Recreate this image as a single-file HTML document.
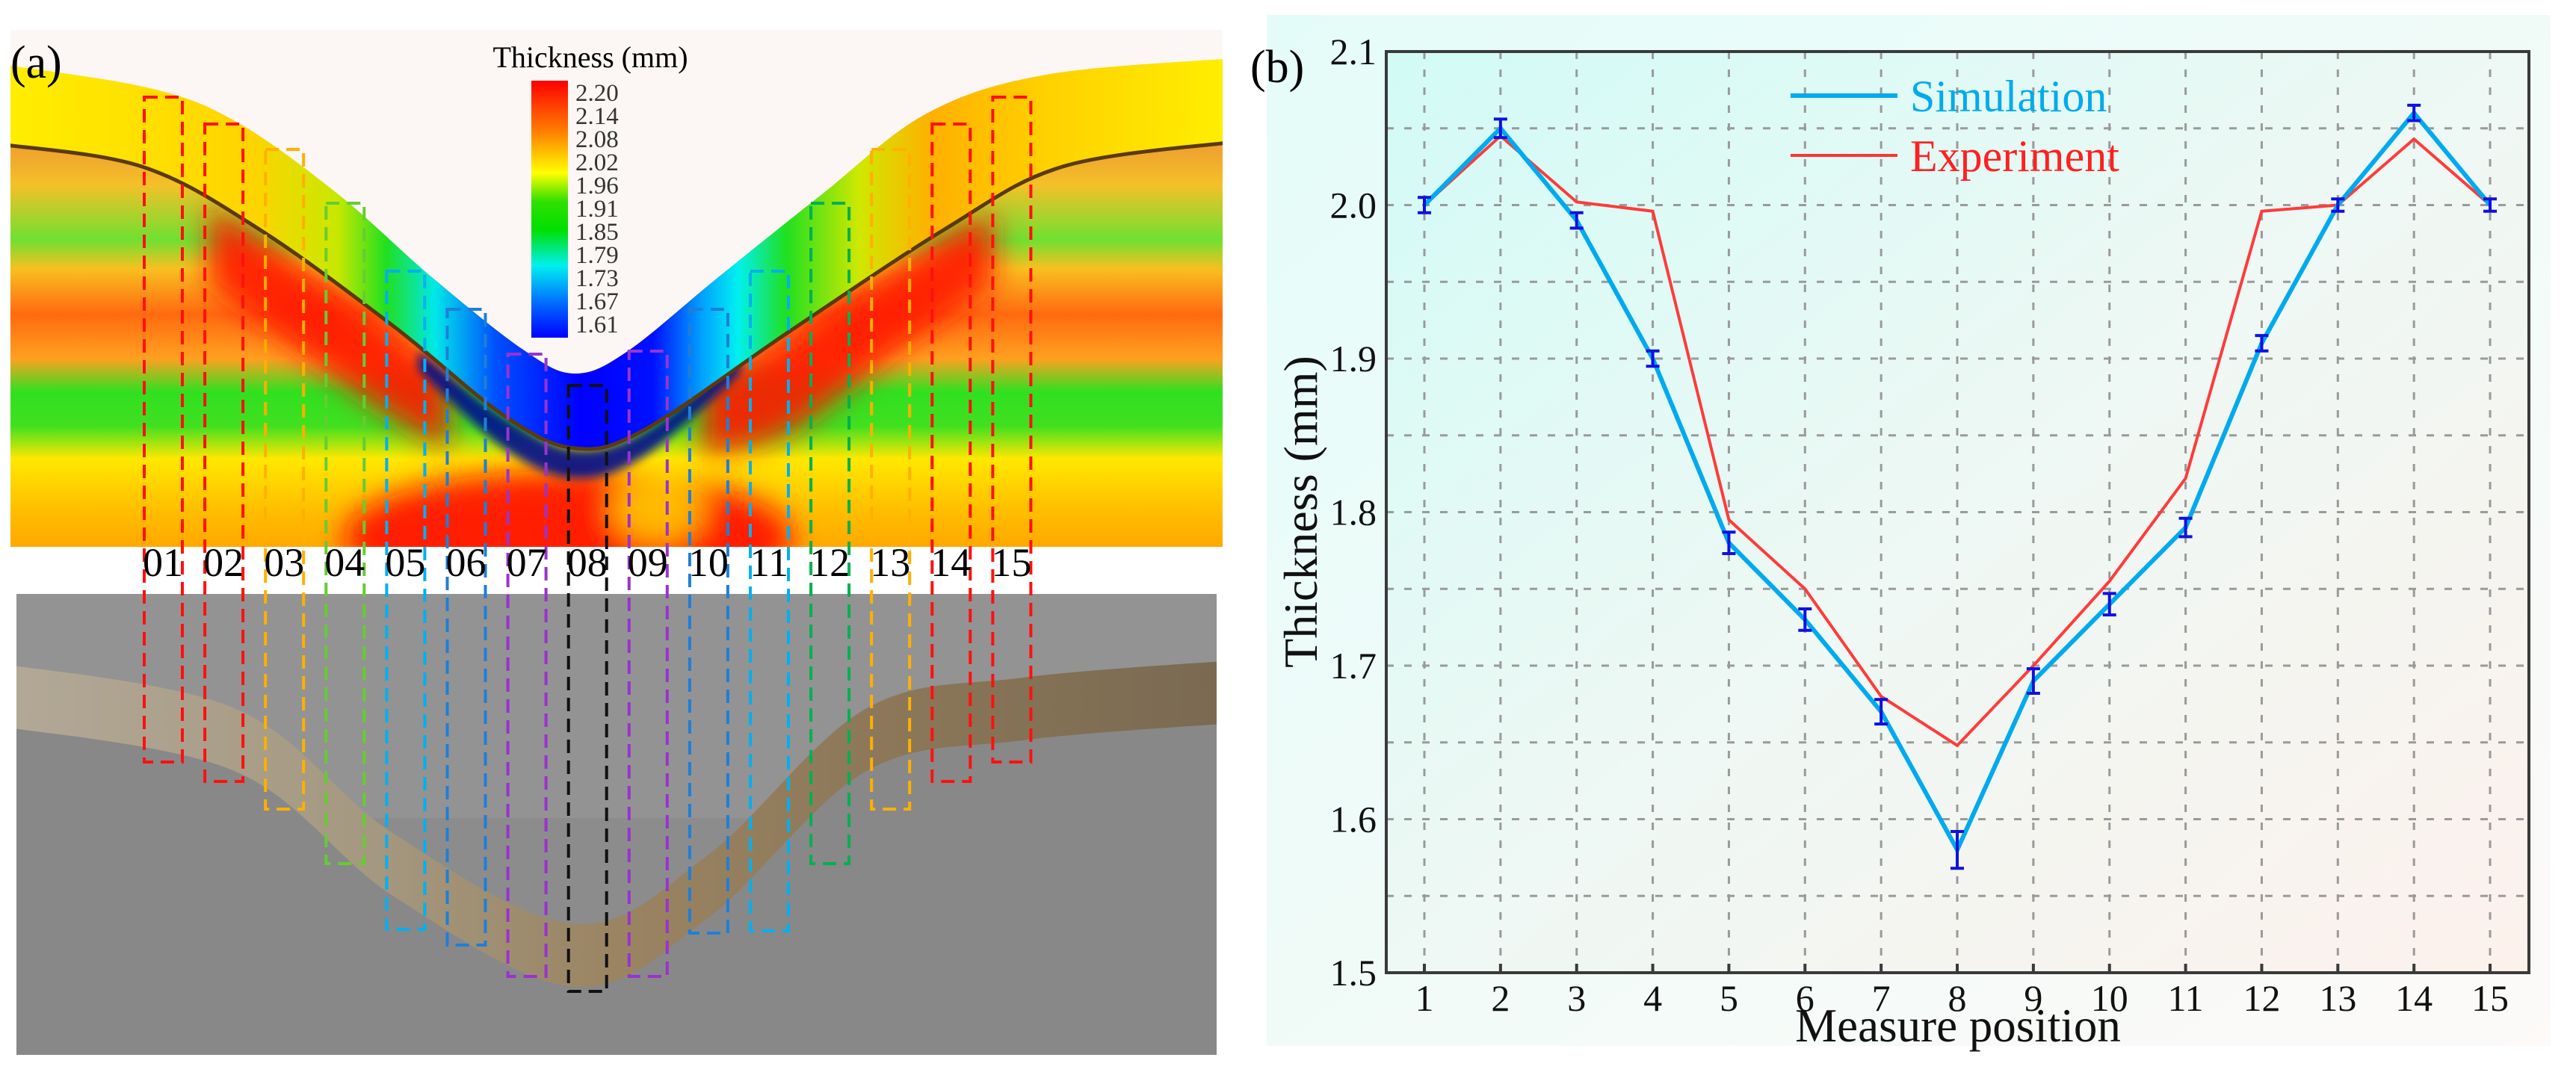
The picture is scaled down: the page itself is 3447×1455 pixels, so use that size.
<!DOCTYPE html>
<html><head><meta charset="utf-8"><style>
html,body{margin:0;padding:0;background:#fff;}
svg{display:block;}
text{font-family:"Liberation Serif",serif;}
</style></head><body>
<svg id="root" width="3447" height="1455" viewBox="0 0 3447 1455" xmlns="http://www.w3.org/2000/svg" font-family="Liberation Serif, serif">
<defs>
  <filter id="blur" x="-20%" y="-20%" width="140%" height="140%"><feGaussianBlur stdDeviation="18"/></filter>
  <filter id="blur2" x="-20%" y="-20%" width="140%" height="140%"><feGaussianBlur stdDeviation="6"/></filter>
  <linearGradient id="stripes" x1="0" y1="40" x2="0" y2="732" gradientUnits="userSpaceOnUse">
    <stop offset="0" stop-color="#ffd000"/><stop offset="0.224" stop-color="#eea030"/>
    <stop offset="0.30" stop-color="#f4c028"/><stop offset="0.406" stop-color="#70e030"/>
    <stop offset="0.462" stop-color="#f8c020"/><stop offset="0.55" stop-color="#ff6a10"/>
    <stop offset="0.636" stop-color="#ffa020"/><stop offset="0.70" stop-color="#30e020"/>
    <stop offset="0.766" stop-color="#40e020"/><stop offset="0.83" stop-color="#ffe800"/>
    <stop offset="0.925" stop-color="#ffc000"/><stop offset="1" stop-color="#ffa800"/>
  </linearGradient>
  <linearGradient id="sheet" x1="14" y1="0" x2="1636" y2="0" gradientUnits="userSpaceOnUse">
    <stop offset="0" stop-color="#ffee00"/><stop offset="0.2" stop-color="#ffd400"/>
    <stop offset="0.27" stop-color="#c8e800"/><stop offset="0.31" stop-color="#20e020"/>
    <stop offset="0.35" stop-color="#00e8e8"/><stop offset="0.40" stop-color="#0050ff"/>
    <stop offset="0.47" stop-color="#0000ff"/><stop offset="0.53" stop-color="#0010ff"/>
    <stop offset="0.57" stop-color="#00a0ff"/><stop offset="0.60" stop-color="#00f0f0"/>
    <stop offset="0.64" stop-color="#20e020"/><stop offset="0.70" stop-color="#d0e800"/>
    <stop offset="0.76" stop-color="#ffb000"/><stop offset="0.85" stop-color="#ffd000"/>
    <stop offset="1" stop-color="#ffee00"/>
  </linearGradient>
  <linearGradient id="cbar" x1="0" y1="0" x2="0" y2="1">
    <stop offset="0" stop-color="#ff0000"/><stop offset="0.2" stop-color="#ff8000"/>
    <stop offset="0.36" stop-color="#ffff00"/><stop offset="0.47" stop-color="#30e000"/>
    <stop offset="0.58" stop-color="#00e000"/><stop offset="0.72" stop-color="#00f0f0"/>
    <stop offset="0.86" stop-color="#0070ff"/><stop offset="1" stop-color="#0000ff"/>
  </linearGradient>
  <linearGradient id="band" x1="22" y1="0" x2="1628" y2="0" gradientUnits="userSpaceOnUse">
    <stop offset="0" stop-color="#b2a896"/><stop offset="0.3" stop-color="#a49880"/>
    <stop offset="0.5" stop-color="#9a8462"/><stop offset="0.75" stop-color="#8a7658"/>
    <stop offset="1" stop-color="#7a6a52"/>
  </linearGradient>
  <linearGradient id="bgb" x1="0" y1="0" x2="1" y2="1">
    <stop offset="0" stop-color="#d2fbf6"/><stop offset="0.5" stop-color="#eef8f4"/>
    <stop offset="1" stop-color="#fdf1ec"/>
  </linearGradient>
  <linearGradient id="bgbo" x1="0" y1="0" x2="1" y2="1">
    <stop offset="0" stop-color="#e4fcf9"/><stop offset="1" stop-color="#fdfaf8"/>
  </linearGradient>
  <clipPath id="femclip"><rect x="14" y="40" width="1622" height="692"/></clipPath>
  <clipPath id="photoclip"><rect x="22" y="795" width="1606" height="617"/></clipPath>
</defs>

<g id="panel-a">
  <g id="fem" clip-path="url(#femclip)">
    <rect x="14" y="40" width="1622" height="692" fill="#fcf7f5"/>
    <path id="below" fill="url(#stripes)"/>
    <g filter="url(#blur)">
      <path id="redv" fill="#ff1800" opacity="0.9"/>
      <ellipse cx="760" cy="720" rx="300" ry="90" fill="#ff1000" opacity="0.9"/>
      <ellipse cx="880" cy="680" rx="60" ry="45" fill="#ffe000" opacity="0.8"/>
    </g>
    <path id="darkv" fill="#000a90" opacity="0.9" filter="url(#blur2)"/>
    <path id="sheetp" fill="url(#sheet)"/>
    <path id="edge" fill="none" stroke="#5a3a10" stroke-width="5"/>
  </g>
  <text x="14" y="104" font-size="62" fill="#000" font-family="Liberation Serif, serif">(a)</text>
  <text x="790" y="90" font-size="40" text-anchor="middle" fill="#000" font-family="Liberation Serif, serif">Thickness (mm)</text>
  <rect x="711" y="108" width="49" height="344" fill="url(#cbar)"/>
  <g id="cbticks"></g>

  <g clip-path="url(#photoclip)">
    <rect x="22" y="795" width="1606" height="617" fill="#8c8c8c"/>
    <rect x="22" y="795" width="1606" height="300" fill="#939393"/>
    <path id="bandp" fill="url(#band)"/>
    <path id="belowband" fill="#888888"/>
  </g>
  <g id="boxes"></g>
</g>

<g id="panel-b">
  <rect x="1695" y="20" width="1718" height="1380" fill="url(#bgbo)"/>
  <rect x="1855" y="69" width="1529" height="1233" fill="url(#bgb)"/>
  <g id="grid"></g>
  <g id="series"></g>
  <rect x="1855" y="69" width="1529" height="1233" fill="none" stroke="#3a3a3a" stroke-width="4"/>
  <g id="axes"></g>
  <text x="1673" y="110" font-size="62" fill="#000" font-family="Liberation Serif, serif">(b)</text>
  <text transform="translate(1762,685) rotate(-90)" font-size="64" text-anchor="middle" fill="#111" font-family="Liberation Serif, serif">Thickness (mm)</text>
  <text x="2620" y="1394" font-size="63" text-anchor="middle" fill="#111" font-family="Liberation Serif, serif">Measure position</text>
  <g>
    <line x1="2396" y1="128" x2="2539" y2="128" stroke="#00aaee" stroke-width="6"/>
    <text x="2556" y="149" font-size="60" fill="#00aaee" font-family="Liberation Serif, serif">Simulation</text>
    <line x1="2396" y1="208" x2="2539" y2="208" stroke="#ff3333" stroke-width="4"/>
    <text x="2556" y="229" font-size="60" fill="#ff2020" font-family="Liberation Serif, serif">Experiment</text>
  </g>
</g>
</svg>
<script>
// ---- chart data ----
const positions = [1,2,3,4,5,6,7,8,9,10,11,12,13,14,15];
const simulation = [2.00,2.05,1.99,1.90,1.78,1.73,1.67,1.58,1.69,1.74,1.79,1.91,2.00,2.06,2.00];
const simError = [0.005,0.006,0.005,0.005,0.007,0.007,0.008,0.012,0.008,0.007,0.006,0.005,0.004,0.005,0.004];
const experiment = [2.00,2.045,2.002,1.996,1.795,1.75,1.68,1.648,1.70,1.755,1.822,1.996,2.00,2.043,2.00];
const yTicks = [1.5,1.6,1.7,1.8,1.9,2.0,2.1];
const yTickLabels = ["1.5","1.6","1.7","1.8","1.9","2.0","2.1"];
const colorbarLabels = ["2.20","2.14","2.08","2.02","1.96","1.91","1.85","1.79","1.73","1.67","1.61"];
const boxLabels = ["01","02","03","04","05","06","07","08","09","10","11","12","13","14","15"];

const NS = "http://www.w3.org/2000/svg";
const SERIF = "Liberation Serif, serif";
function mk(tag, attrs, parent){const e=document.createElementNS(NS,tag);for(const k in attrs)e.setAttribute(k,attrs[k]);parent.appendChild(e);return e;}
const X = v => 1906 + (v-1)*101.86;
const Y = v => 1302 - (v-1.5)*2055;

// grid
const grid=document.getElementById('grid');
for(const p of positions){
  const l=mk('line',{x1:X(p),x2:X(p),y1:69,y2:1302,stroke:'#9a9a9a','stroke-width':3,'stroke-dasharray':'10 14'},grid);
  
  
}
for(let v=1.55; v<2.09; v+=0.05){
  const l=mk('line',{x1:1855,x2:3384,y1:Y(v),y2:Y(v),stroke:'#9a9a9a','stroke-width':3,'stroke-dasharray':'10 14'},grid);
  
  
}
// axes labels
const axes=document.getElementById('axes');
yTicks.forEach((t,i)=>{
  const tx=mk('text',{x:1842,y:Y(t)+17,'font-size':50,'text-anchor':'end',fill:'#111','font-family':SERIF},axes);
  tx.textContent=yTickLabels[i];
  
  
});
positions.forEach(p=>{
  const tk=mk('line',{x1:X(p),x2:X(p),y1:1302,y2:1290,stroke:'#3a3a3a','stroke-width':4},axes);
  
  
  const tx=mk('text',{x:X(p),y:1353,'font-size':50,'text-anchor':'middle',fill:'#111','font-family':SERIF},axes);
  tx.textContent=String(p);
  
  
});
// series
const ser=document.getElementById('series');
const expLine=mk('polyline',{points:positions.map((p,i)=>X(p)+','+Y(experiment[i])).join(' '),fill:'none',stroke:'#ff3b3b','stroke-width':4},ser);


const simLine=mk('polyline',{points:positions.map((p,i)=>X(p)+','+Y(simulation[i])).join(' '),fill:'none',stroke:'#00aaee','stroke-width':6},ser);


positions.forEach((p,i)=>{
  const g=mk('g',{stroke:'#1010e0','stroke-width':4},ser);
  
  
  const y1=Y(simulation[i]+simError[i]), y2=Y(simulation[i]-simError[i]), x=X(p);
  mk('line',{x1:x,x2:x,y1:y1,y2:y2},g);
  mk('line',{x1:x-9,x2:x+9,y1:y1,y2:y1},g);
  mk('line',{x1:x-9,x2:x+9,y1:y2,y2:y2},g);
});

// ---- panel (a) drawings ----
function smooth(pts){
  let d='M'+pts[0][0]+','+pts[0][1];
  for(let i=0;i<pts.length-1;i++){
    const p0=pts[Math.max(0,i-1)],p1=pts[i],p2=pts[i+1],p3=pts[Math.min(pts.length-1,i+2)];
    const c1=[p1[0]+(p2[0]-p0[0])/6,p1[1]+(p2[1]-p0[1])/6];
    const c2=[p2[0]-(p3[0]-p1[0])/6,p2[1]-(p3[1]-p1[1])/6];
    d+=' C'+c1[0]+','+c1[1]+' '+c2[0]+','+c2[1]+' '+p2[0]+','+p2[1];
  }
  return d;
}
const rev=a=>a.slice().reverse();
const topC=[[0,86],[200,118],[316,163],[450,258],[579,372],[700,468],[769,500],[840,470],[960,372],[1100,260],[1240,152],[1400,100],[1650,78]];
const botC=[[0,193],[190,223],[347,307],[527,437],[674,556],[769,600],[863,575],[1053,446],[1264,307],[1422,223],[1650,190]];
document.getElementById('below').setAttribute('d',smooth(topC)+' L1650,740 L0,740 Z');
document.getElementById('sheetp').setAttribute('d',smooth(topC)+' L1650,190 '+smooth(rev(botC)).replace('M','L')+' Z');
document.getElementById('edge').setAttribute('d',smooth(botC));
const darkTop=[[560,470],[674,558],[769,602],[863,577],[990,480]];
const darkBot=[[990,500],[863,610],[769,640],[674,600],[560,495]];
document.getElementById('darkv').setAttribute('d',smooth(darkTop)+' '+smooth(darkBot).replace('M','L')+' Z');
const redTop=[[280,280],[347,315],[527,445],[600,500]];
const redBot=[[600,600],[527,560],[400,470],[280,380]];
const redTop2=[[940,510],[1053,452],[1264,315],[1330,290]];
const redBot2=[[1330,380],[1200,470],[1053,580],[940,610]];
document.getElementById('redv').setAttribute('d',
  smooth(redTop)+' '+smooth(redBot).replace('M','L')+' Z '+
  smooth(redTop2)+' '+smooth(redBot2).replace('M','L')+' Z');

const cb=document.getElementById('cbticks');
colorbarLabels.forEach((s,i)=>{
  const t=mk('text',{x:770,y:135+i*31,'font-size':33,fill:'#333','font-family':'Liberation Sans, sans-serif'},cb);
  t.textContent=s;
  
  
});

const bandTop=[[0,888],[316,949],[527,1116],[769,1237],[948,1144],[1158,949],[1369,907],[1650,884]];
const bandBot=[[1650,968],[1369,991],[1158,1033],[948,1228],[769,1321],[527,1200],[316,1033],[0,972]];
document.getElementById('bandp').setAttribute('d',smooth(bandTop)+' '+smooth(bandBot).replace('M','L')+' Z');
document.getElementById('belowband').setAttribute('d',smooth(rev(bandBot))+' L1650,1420 L0,1420 Z');

const boxTops=[130,166,200,272,363,414,474,516,470,414,363,272,200,166,130];
const boxBots=[1020,1046,1083,1156,1244,1265,1307,1327,1307,1249,1246,1156,1083,1046,1020];
const boxColors=['#ff1010','#ff1010','#ffb000','#66cc33','#00b0f0','#1e7fd8','#9933cc','#111111','#9933cc','#1e7fd8','#00b0f0','#00b050','#ffb000','#ff1010','#ff1010'];
const boxes=document.getElementById('boxes');
boxLabels.forEach((lab,i)=>{
  const x=193+i*81.1;
  const r=mk('rect',{x:x,y:boxTops[i],width:51,height:boxBots[i]-boxTops[i],fill:'none',stroke:boxColors[i],'stroke-width':4,'stroke-dasharray':'18 10'},boxes);
  
  
  const t=mk('text',{x:x+25,y:771,'font-size':54,'text-anchor':'middle',fill:'#000','font-family':SERIF},boxes);
  t.textContent=lab;
  
  
});
</script>
</body></html>
